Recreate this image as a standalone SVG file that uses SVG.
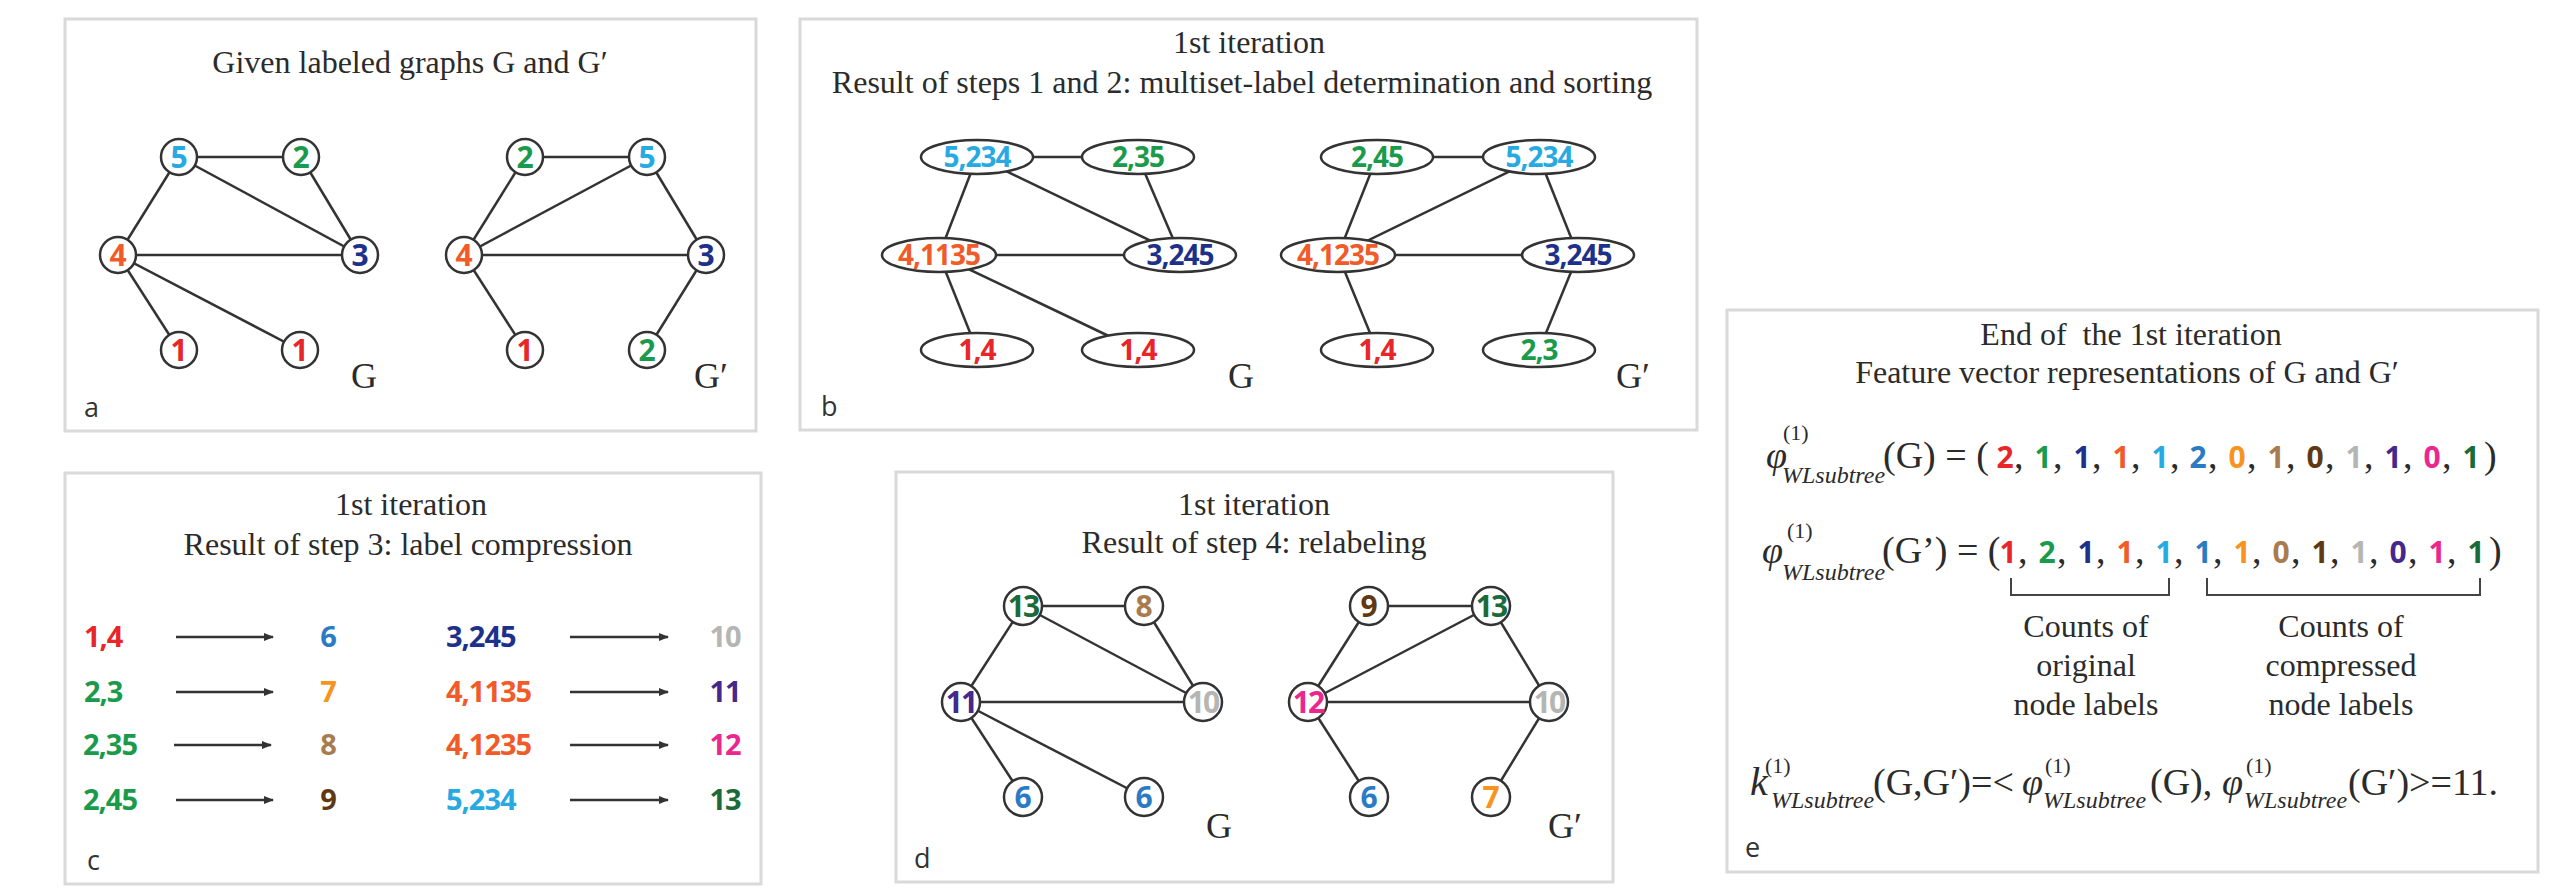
<svg xmlns="http://www.w3.org/2000/svg" width="2562" height="891" viewBox="0 0 2562 891">
<defs>
<style>
.box{fill:#fff;stroke:#d9d9d9;stroke-width:3}
.edge{stroke:#333;stroke-width:2.5;fill:none}
.nc{fill:#fff;stroke:#333;stroke-width:2.5}
.ne{fill:#fff;stroke:#333;stroke-width:2.5}
.nl{font-family:"Open Sans","Noto Sans",sans-serif;font-weight:700;text-anchor:middle;font-size:30px}
.el{font-family:"Open Sans","Noto Sans",sans-serif;font-weight:700;text-anchor:middle;font-size:28px;letter-spacing:-1px}
.cl{font-family:"Open Sans","Noto Sans",sans-serif;font-weight:700;font-size:29px;letter-spacing:-1px}
.ser{font-family:"Liberation Serif","Times New Roman",serif;fill:#2b2b2b}
.ttl{font-size:32px;text-anchor:middle}
.gl{font-size:36px}
.pl{font-family:"Open Sans","Noto Sans",sans-serif;font-size:27px;fill:#333}
.it{font-style:italic}
.big{font-size:38px}
.sup{font-size:22px}
.sub{font-size:24px;font-style:italic}
.dg{font-family:"Open Sans","Noto Sans",sans-serif;font-weight:700;font-size:30px;text-anchor:middle}
.arr{stroke:#333;stroke-width:2.5;fill:none;marker-end:url(#ah)}
.brk{stroke:#444;stroke-width:2;fill:none}
.c1{fill:#e8262a}.c2{fill:#1a9a4b}.c3{fill:#1d318a}.c4{fill:#f15a29}.c5{fill:#27aae1}
.c6{fill:#2a7bc4}.c7{fill:#f7941d}.c8{fill:#a97c50}.c9{fill:#603913}.c10{fill:#b5b5b3}
.c11{fill:#44288c}.c12{fill:#ec268f}.c13{fill:#1b6b3a}
</style>
<marker id="ah" viewBox="0 0 10 10" refX="9" refY="5" markerWidth="4" markerHeight="4" orient="auto"><path d="M0,1 L10,5 L0,9 z" fill="#333"/></marker>
</defs>
<rect width="2562" height="891" fill="#fff"/>

<!-- Panel a -->
<g id="panel-a">
<rect class="box" x="65" y="19" width="691" height="412"/>
<text class="ser ttl" x="410" y="73">Given labeled graphs G and G′</text>
<text class="ser gl" x="351" y="388">G</text>
<text class="ser gl" x="694" y="388">G′</text>
<text class="pl" x="84" y="417">a</text>
</g>
<g id="a-edges">
<line class="edge" x1="179" y1="157" x2="301" y2="157"/>
<line class="edge" x1="179" y1="157" x2="118" y2="255"/>
<line class="edge" x1="179" y1="157" x2="360" y2="255"/>
<line class="edge" x1="301" y1="157" x2="360" y2="255"/>
<line class="edge" x1="118" y1="255" x2="360" y2="255"/>
<line class="edge" x1="118" y1="255" x2="179" y2="350"/>
<line class="edge" x1="118" y1="255" x2="300" y2="350"/>
<line class="edge" x1="525" y1="157" x2="647" y2="157"/>
<line class="edge" x1="525" y1="157" x2="464" y2="255"/>
<line class="edge" x1="647" y1="157" x2="464" y2="255"/>
<line class="edge" x1="647" y1="157" x2="706" y2="255"/>
<line class="edge" x1="464" y1="255" x2="706" y2="255"/>
<line class="edge" x1="464" y1="255" x2="525" y2="350"/>
<line class="edge" x1="706" y1="255" x2="647" y2="350"/>
</g>
<g id="a-G-5"><circle class="nc" cx="179" cy="157" r="18"/><text class="nl c5" x="179" y="168">5</text></g>
<g id="a-G-2"><circle class="nc" cx="301" cy="157" r="18"/><text class="nl c2" x="301" y="168">2</text></g>
<g id="a-G-4"><circle class="nc" cx="118" cy="255" r="18"/><text class="nl c4" x="118" y="266">4</text></g>
<g id="a-G-3"><circle class="nc" cx="360" cy="255" r="18"/><text class="nl c3" x="360" y="266">3</text></g>
<g id="a-G-1a"><circle class="nc" cx="179" cy="350" r="18"/><text class="nl c1" x="179" y="361">1</text></g>
<g id="a-G-1b"><circle class="nc" cx="300" cy="350" r="18"/><text class="nl c1" x="300" y="361">1</text></g>
<g id="a-H-2"><circle class="nc" cx="525" cy="157" r="18"/><text class="nl c2" x="525" y="168">2</text></g>
<g id="a-H-5"><circle class="nc" cx="647" cy="157" r="18"/><text class="nl c5" x="647" y="168">5</text></g>
<g id="a-H-4"><circle class="nc" cx="464" cy="255" r="18"/><text class="nl c4" x="464" y="266">4</text></g>
<g id="a-H-3"><circle class="nc" cx="706" cy="255" r="18"/><text class="nl c3" x="706" y="266">3</text></g>
<g id="a-H-1"><circle class="nc" cx="525" cy="350" r="18"/><text class="nl c1" x="525" y="361">1</text></g>
<g id="a-H-2b"><circle class="nc" cx="647" cy="350" r="18"/><text class="nl c2" x="647" y="361">2</text></g>

<!-- Panel b -->
<g id="panel-b">
<rect class="box" x="800" y="19" width="897" height="411"/>
<text class="ser ttl" x="1249" y="53">1st iteration</text>
<text class="ser ttl" x="1242" y="93">Result of steps 1 and 2: multiset-label determination and sorting</text>
<text class="ser gl" x="1228" y="388">G</text>
<text class="ser gl" x="1616" y="388">G′</text>
<text class="pl" x="821" y="416">b</text>
</g>
<g id="b-edges">
<line class="edge" x1="977" y1="157" x2="1138" y2="157"/>
<line class="edge" x1="977" y1="157" x2="939" y2="255"/>
<line class="edge" x1="977" y1="157" x2="1180" y2="255"/>
<line class="edge" x1="1138" y1="157" x2="1180" y2="255"/>
<line class="edge" x1="939" y1="255" x2="1180" y2="255"/>
<line class="edge" x1="939" y1="255" x2="977" y2="350"/>
<line class="edge" x1="939" y1="255" x2="1138" y2="350"/>
<line class="edge" x1="1377" y1="157" x2="1539" y2="157"/>
<line class="edge" x1="1377" y1="157" x2="1338" y2="255"/>
<line class="edge" x1="1539" y1="157" x2="1338" y2="255"/>
<line class="edge" x1="1539" y1="157" x2="1578" y2="255"/>
<line class="edge" x1="1338" y1="255" x2="1578" y2="255"/>
<line class="edge" x1="1338" y1="255" x2="1377" y2="350"/>
<line class="edge" x1="1578" y1="255" x2="1539" y2="350"/>
</g>
<g id="b-G-5"><ellipse class="ne" cx="977" cy="157" rx="56" ry="17"/><text class="el c5" x="977" y="167">5,234</text></g>
<g id="b-G-2"><ellipse class="ne" cx="1138" cy="157" rx="56" ry="17"/><text class="el c2" x="1138" y="167">2,35</text></g>
<g id="b-G-4"><ellipse class="ne" cx="939" cy="255" rx="57" ry="17"/><text class="el c4" x="939" y="265">4,1135</text></g>
<g id="b-G-3"><ellipse class="ne" cx="1180" cy="255" rx="56" ry="17"/><text class="el c3" x="1180" y="265">3,245</text></g>
<g id="b-G-1a"><ellipse class="ne" cx="977" cy="350" rx="56" ry="17"/><text class="el c1" x="977" y="360">1,4</text></g>
<g id="b-G-1b"><ellipse class="ne" cx="1138" cy="350" rx="56" ry="17"/><text class="el c1" x="1138" y="360">1,4</text></g>
<g id="b-H-2"><ellipse class="ne" cx="1377" cy="157" rx="56" ry="17"/><text class="el c2" x="1377" y="167">2,45</text></g>
<g id="b-H-5"><ellipse class="ne" cx="1539" cy="157" rx="56" ry="17"/><text class="el c5" x="1539" y="167">5,234</text></g>
<g id="b-H-4"><ellipse class="ne" cx="1338" cy="255" rx="57" ry="17"/><text class="el c4" x="1338" y="265">4,1235</text></g>
<g id="b-H-3"><ellipse class="ne" cx="1578" cy="255" rx="56" ry="17"/><text class="el c3" x="1578" y="265">3,245</text></g>
<g id="b-H-1"><ellipse class="ne" cx="1377" cy="350" rx="56" ry="17"/><text class="el c1" x="1377" y="360">1,4</text></g>
<g id="b-H-2b"><ellipse class="ne" cx="1539" cy="350" rx="56" ry="17"/><text class="el c2" x="1539" y="360">2,3</text></g>

<!-- Panel c -->
<g id="panel-c">
<rect class="box" x="65" y="473" width="696" height="411"/>
<text class="ser ttl" x="411" y="515">1st iteration</text>
<text class="ser ttl" x="408" y="555">Result of step 3: label compression</text>
<text class="pl" x="87" y="870">c</text>
<text class="cl c1" x="84" y="647">1,4</text>
<text class="cl c2" x="84" y="702">2,3</text>
<text class="cl c2" x="83" y="755">2,35</text>
<text class="cl c2" x="83" y="810">2,45</text>
<text class="cl c6" x="328" y="647" text-anchor="middle">6</text>
<text class="cl c7" x="328" y="702" text-anchor="middle">7</text>
<text class="cl c8" x="328" y="755" text-anchor="middle">8</text>
<text class="cl c9" x="328" y="810" text-anchor="middle">9</text>
<text class="cl c3" x="446" y="647">3,245</text>
<text class="cl c4" x="446" y="702">4,1135</text>
<text class="cl c4" x="446" y="755">4,1235</text>
<text class="cl c5" x="446" y="810">5,234</text>
<text class="cl c10" x="725" y="647" text-anchor="middle">10</text>
<text class="cl c11" x="725" y="702" text-anchor="middle">11</text>
<text class="cl c12" x="725" y="755" text-anchor="middle">12</text>
<text class="cl c13" x="725" y="810" text-anchor="middle">13</text>
</g>
<g id="c-arrows">
<line class="arr" x1="176" y1="637" x2="273" y2="637"/>
<line class="arr" x1="176" y1="692" x2="273" y2="692"/>
<line class="arr" x1="174" y1="745" x2="271" y2="745"/>
<line class="arr" x1="176" y1="800" x2="273" y2="800"/>
<line class="arr" x1="570" y1="637" x2="668" y2="637"/>
<line class="arr" x1="570" y1="692" x2="668" y2="692"/>
<line class="arr" x1="570" y1="745" x2="668" y2="745"/>
<line class="arr" x1="570" y1="800" x2="668" y2="800"/>
</g>

<!-- Panel d -->
<g id="panel-d">
<rect class="box" x="896" y="472" width="717" height="410"/>
<text class="ser ttl" x="1254" y="515">1st iteration</text>
<text class="ser ttl" x="1254" y="553">Result of step 4: relabeling</text>
<text class="ser gl" x="1206" y="838">G</text>
<text class="ser gl" x="1548" y="838">G′</text>
<text class="pl" x="914" y="868">d</text>
</g>
<g id="d-edges">
<line class="edge" x1="1023" y1="606" x2="1144" y2="606"/>
<line class="edge" x1="1023" y1="606" x2="961" y2="702"/>
<line class="edge" x1="1023" y1="606" x2="1203" y2="702"/>
<line class="edge" x1="1144" y1="606" x2="1203" y2="702"/>
<line class="edge" x1="961" y1="702" x2="1203" y2="702"/>
<line class="edge" x1="961" y1="702" x2="1023" y2="797"/>
<line class="edge" x1="961" y1="702" x2="1144" y2="797"/>
<line class="edge" x1="1369" y1="606" x2="1491" y2="606"/>
<line class="edge" x1="1369" y1="606" x2="1308" y2="702"/>
<line class="edge" x1="1491" y1="606" x2="1308" y2="702"/>
<line class="edge" x1="1491" y1="606" x2="1549" y2="702"/>
<line class="edge" x1="1308" y1="702" x2="1549" y2="702"/>
<line class="edge" x1="1308" y1="702" x2="1369" y2="797"/>
<line class="edge" x1="1549" y1="702" x2="1491" y2="797"/>
</g>
<g id="d-G-13"><circle class="nc" cx="1023" cy="606" r="19"/><text class="nl c13" x="1023" y="617" letter-spacing="-2">13</text></g>
<g id="d-G-8"><circle class="nc" cx="1144" cy="606" r="19"/><text class="nl c8" x="1144" y="617">8</text></g>
<g id="d-G-11"><circle class="nc" cx="961" cy="702" r="19"/><text class="nl c11" x="961" y="713" letter-spacing="-2">11</text></g>
<g id="d-G-10"><circle class="nc" cx="1203" cy="702" r="19"/><text class="nl c10" x="1203" y="713" letter-spacing="-2">10</text></g>
<g id="d-G-6a"><circle class="nc" cx="1023" cy="797" r="19"/><text class="nl c6" x="1023" y="808">6</text></g>
<g id="d-G-6b"><circle class="nc" cx="1144" cy="797" r="19"/><text class="nl c6" x="1144" y="808">6</text></g>
<g id="d-H-9"><circle class="nc" cx="1369" cy="606" r="19"/><text class="nl c9" x="1369" y="617">9</text></g>
<g id="d-H-13"><circle class="nc" cx="1491" cy="606" r="19"/><text class="nl c13" x="1491" y="617" letter-spacing="-2">13</text></g>
<g id="d-H-12"><circle class="nc" cx="1308" cy="702" r="19"/><text class="nl c12" x="1308" y="713" letter-spacing="-2">12</text></g>
<g id="d-H-10"><circle class="nc" cx="1549" cy="702" r="19"/><text class="nl c10" x="1549" y="713" letter-spacing="-2">10</text></g>
<g id="d-H-6"><circle class="nc" cx="1369" cy="797" r="19"/><text class="nl c6" x="1369" y="808">6</text></g>
<g id="d-H-7"><circle class="nc" cx="1491" cy="797" r="19"/><text class="nl c7" x="1491" y="808">7</text></g>

<!-- Panel e -->
<g id="panel-e">
<rect class="box" x="1727" y="310" width="811" height="562"/>
<text class="ser ttl" x="2131" y="345">End of&#160; the 1st iteration</text>
<text class="ser ttl" x="2127" y="383">Feature vector representations of G and G′</text>
<text class="pl" x="1745" y="857">e</text>

<g id="e-row1">
<text class="ser it big" x="1766" y="468">φ</text>
<text class="ser sup" x="1783" y="440">(1)</text>
<text class="ser sub" x="1782" y="483">WLsubtree</text>
<text class="ser big" x="1883" y="468">(G) = (</text>
<text class="dg c1" x="2005" y="468">2</text><text class="ser big" x="2014" y="468">,</text>
<text class="dg c2" x="2043" y="468">1</text><text class="ser big" x="2053" y="468">,</text>
<text class="dg c3" x="2082" y="468">1</text><text class="ser big" x="2092" y="468">,</text>
<text class="dg c4" x="2121" y="468">1</text><text class="ser big" x="2131" y="468">,</text>
<text class="dg c5" x="2160" y="468">1</text><text class="ser big" x="2170" y="468">,</text>
<text class="dg c6" x="2198" y="468">2</text><text class="ser big" x="2208" y="468">,</text>
<text class="dg c7" x="2237" y="468">0</text><text class="ser big" x="2247" y="468">,</text>
<text class="dg c8" x="2276" y="468">1</text><text class="ser big" x="2286" y="468">,</text>
<text class="dg c9" x="2315" y="468">0</text><text class="ser big" x="2325" y="468">,</text>
<text class="dg c10" x="2354" y="468">1</text><text class="ser big" x="2364" y="468">,</text>
<text class="dg c11" x="2393" y="468">1</text><text class="ser big" x="2403" y="468">,</text>
<text class="dg c12" x="2432" y="468">0</text><text class="ser big" x="2442" y="468">,</text>
<text class="dg c13" x="2471" y="468">1</text>
<text class="ser big" x="2484" y="468">)</text>
</g>

<g id="e-row2">
<text class="ser it big" x="1762" y="563">φ</text>
<text class="ser sup" x="1787" y="538">(1)</text>
<text class="ser sub" x="1782" y="580">WLsubtree</text>
<text class="ser big" x="1882" y="563">(G’) = (</text>
<text class="dg c1" x="2008" y="563">1</text><text class="ser big" x="2018" y="563">,</text>
<text class="dg c2" x="2047" y="563">2</text><text class="ser big" x="2057" y="563">,</text>
<text class="dg c3" x="2086" y="563">1</text><text class="ser big" x="2096" y="563">,</text>
<text class="dg c4" x="2125" y="563">1</text><text class="ser big" x="2135" y="563">,</text>
<text class="dg c5" x="2164" y="563">1</text><text class="ser big" x="2174" y="563">,</text>
<text class="dg c6" x="2203" y="563">1</text><text class="ser big" x="2213" y="563">,</text>
<text class="dg c7" x="2242" y="563">1</text><text class="ser big" x="2252" y="563">,</text>
<text class="dg c8" x="2281" y="563">0</text><text class="ser big" x="2291" y="563">,</text>
<text class="dg c9" x="2320" y="563">1</text><text class="ser big" x="2330" y="563">,</text>
<text class="dg c10" x="2359" y="563">1</text><text class="ser big" x="2369" y="563">,</text>
<text class="dg c11" x="2398" y="563">0</text><text class="ser big" x="2408" y="563">,</text>
<text class="dg c12" x="2437" y="563">1</text><text class="ser big" x="2447" y="563">,</text>
<text class="dg c13" x="2476" y="563">1</text>
<text class="ser big" x="2489" y="563">)</text>
</g>

<path class="brk" d="M2011,578 V595 H2169 V578"/>
<path class="brk" d="M2207,578 V595 H2480 V578"/>
<text class="ser" font-size="32" text-anchor="middle" x="2086" y="637">Counts of</text>
<text class="ser" font-size="32" text-anchor="middle" x="2086" y="676">original</text>
<text class="ser" font-size="32" text-anchor="middle" x="2086" y="715">node labels</text>
<text class="ser" font-size="32" text-anchor="middle" x="2341" y="637">Counts of</text>
<text class="ser" font-size="32" text-anchor="middle" x="2341" y="676">compressed</text>
<text class="ser" font-size="32" text-anchor="middle" x="2341" y="715">node labels</text>

<g id="e-kernel">
<text class="ser it" font-size="40" x="1750" y="795">k</text>
<text class="ser sup" x="1765" y="773">(1)</text>
<text class="ser sub" x="1771" y="808">WLsubtree</text>
<text class="ser big" x="1873" y="795">(G,G′)=&lt;</text>
<text class="ser it big" x="2022" y="795">φ</text>
<text class="ser sup" x="2045" y="773">(1)</text>
<text class="ser sub" x="2043" y="808">WLsubtree</text>
<text class="ser big" x="2150" y="795">(G),</text>
<text class="ser it big" x="2222" y="795">φ</text>
<text class="ser sup" x="2246" y="773">(1)</text>
<text class="ser sub" x="2244" y="808">WLsubtree</text>
<text class="ser big" x="2348" y="795">(G′)&gt;=11.</text>
</g>
</g>
</svg>
